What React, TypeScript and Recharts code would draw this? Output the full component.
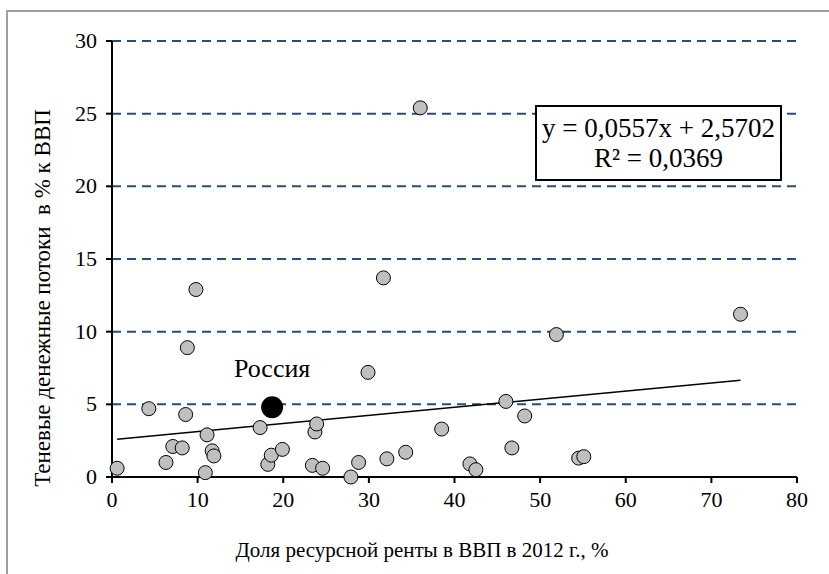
import { CartesianGrid, Scatter, ScatterChart, XAxis, YAxis } from 'recharts';

// доля ресурсной ренты в ВВП, 2012 г., %
const rentShare = [
  0.6, 4.3, 6.3, 7.1, 8.2, 8.6, 8.8, 9.8, 10.9, 11.1, 11.7, 11.9, 17.3, 18.2, 18.6, 19.9, 23.4, 23.7, 23.9,
  24.6, 27.9, 28.8, 29.9, 31.7, 32.1, 34.3, 36.0, 38.5, 41.8, 42.5, 46.0, 46.7, 48.2, 51.9, 54.5, 55.1, 73.4,
];
// теневые денежные потоки, % к ВВП
const shadowFlows = [
  0.6, 4.7, 1.0, 2.1, 2.0, 4.3, 8.9, 12.9, 0.3, 2.9, 1.8, 1.45, 3.4, 0.87, 1.5, 1.9, 0.8, 3.1, 3.65,
  0.6, 0.0, 1.0, 7.2, 13.7, 1.25, 1.7, 25.4, 3.3, 0.9, 0.5, 5.2, 2.0, 4.2, 9.8, 1.3, 1.4, 11.2,
];
const russia = [{ x: 18.7, y: 4.8, name: 'Россия' }];

// линейный тренд (как на подписи)
const slope = 0.0557;
const intercept = 2.5702;
const trendRange = [0.6, 73.4];

const xTicks = [0, 10, 20, 30, 40, 50, 60, 70, 80];
const yTicks = [0, 5, 10, 15, 20, 25, 30];

const countries = rentShare.map((x, i) => ({ x, y: shadowFlows[i] }));
const trend = trendRange.map((x) => ({ x, y: slope * x + intercept }));

const serif = "'Liberation Serif', 'Times New Roman'";

function XTick(props: any) {
  return (
    <text x={props.x} y={props.y + 22} textAnchor="middle" fontFamily={serif} fontSize={22} fill="#000">
      {props.payload.value}
    </text>
  );
}

function YTick(props: any) {
  return (
    <text x={props.x} y={props.y + 7} textAnchor="end" fontFamily={serif} fontSize={22} fill="#000">
      {props.payload.value}
    </text>
  );
}

function GrayDot(props: any) {
  return <circle cx={props.cx} cy={props.cy} r={7} fill="#bfbfbf" stroke="#000" strokeWidth={1} />;
}

function RussiaDot(props: any) {
  return (
    <g>
      <circle cx={props.cx} cy={props.cy} r={11} fill="#000" />
      <text x={props.cx} y={props.cy - 30} textAnchor="middle" fontFamily={serif} fontSize={26} fill="#000">
        {props.payload.name}
      </text>
    </g>
  );
}

export default function App() {
  return (
    <div style={{ position: 'absolute', left: 0, top: 0, width: 829, height: 574, overflow: 'hidden', background: '#fff' }}>
      <div
        style={{
          position: 'absolute',
          left: 6,
          top: 10,
          width: 900,
          height: 700,
          border: '2px solid #a0a0a0',
        }}
      />
      <ScatterChart width={829} height={574} margin={{ top: 41, right: 32, left: 52, bottom: 57 }}>
        <CartesianGrid vertical={false} stroke="#244d82" strokeWidth={2} strokeDasharray="9 6" />
        <XAxis
          type="number"
          dataKey="x"
          domain={[0, 80]}
          ticks={xTicks}
          height={40}
          tick={<XTick />}
          tickSize={6}
          axisLine={{ stroke: '#000', strokeWidth: 2 }}
          tickLine={{ stroke: '#000', strokeWidth: 2 }}
        />
        <YAxis
          type="number"
          dataKey="y"
          domain={[0, 30]}
          ticks={yTicks}
          width={60}
          tick={<YTick />}
          tickSize={6}
          tickMargin={9}
          axisLine={{ stroke: '#000', strokeWidth: 2 }}
          tickLine={{ stroke: '#000', strokeWidth: 2 }}
        />
        <Scatter data={trend} line={{ stroke: '#000', strokeWidth: 1.5 }} shape={() => null} isAnimationActive={false} />
        <Scatter data={countries} shape={GrayDot} isAnimationActive={false} />
        <Scatter data={russia} shape={RussiaDot} isAnimationActive={false} />
      </ScatterChart>
      <div
        style={{
          position: 'absolute',
          left: 535,
          top: 105,
          width: 243,
          height: 66,
          border: '2px solid #000',
          background: '#fff',
          fontFamily: serif,
          fontSize: 27,
          lineHeight: '30px',
          textAlign: 'center',
          paddingTop: 6,
          boxSizing: 'content-box',
        }}
      >
        <div>y = 0,0557x + 2,5702</div>
        <div>R² = 0,0369</div>
      </div>
      <div
        style={{
          position: 'absolute',
          left: 422,
          top: 550,
          transform: 'translate(-50%, -50%)',
          whiteSpace: 'nowrap',
          fontFamily: serif,
          fontSize: 21,
        }}
      >
        Доля ресурсной ренты в ВВП в 2012 г., %
      </div>
      <div
        style={{
          position: 'absolute',
          left: 43,
          top: 298,
          transform: 'translate(-50%, -50%) rotate(-90deg)',
          whiteSpace: 'pre',
          fontFamily: serif,
          fontSize: 23,
        }}
      >
        Теневые денежные потоки  в % к ВВП
      </div>
    </div>
  );
}
